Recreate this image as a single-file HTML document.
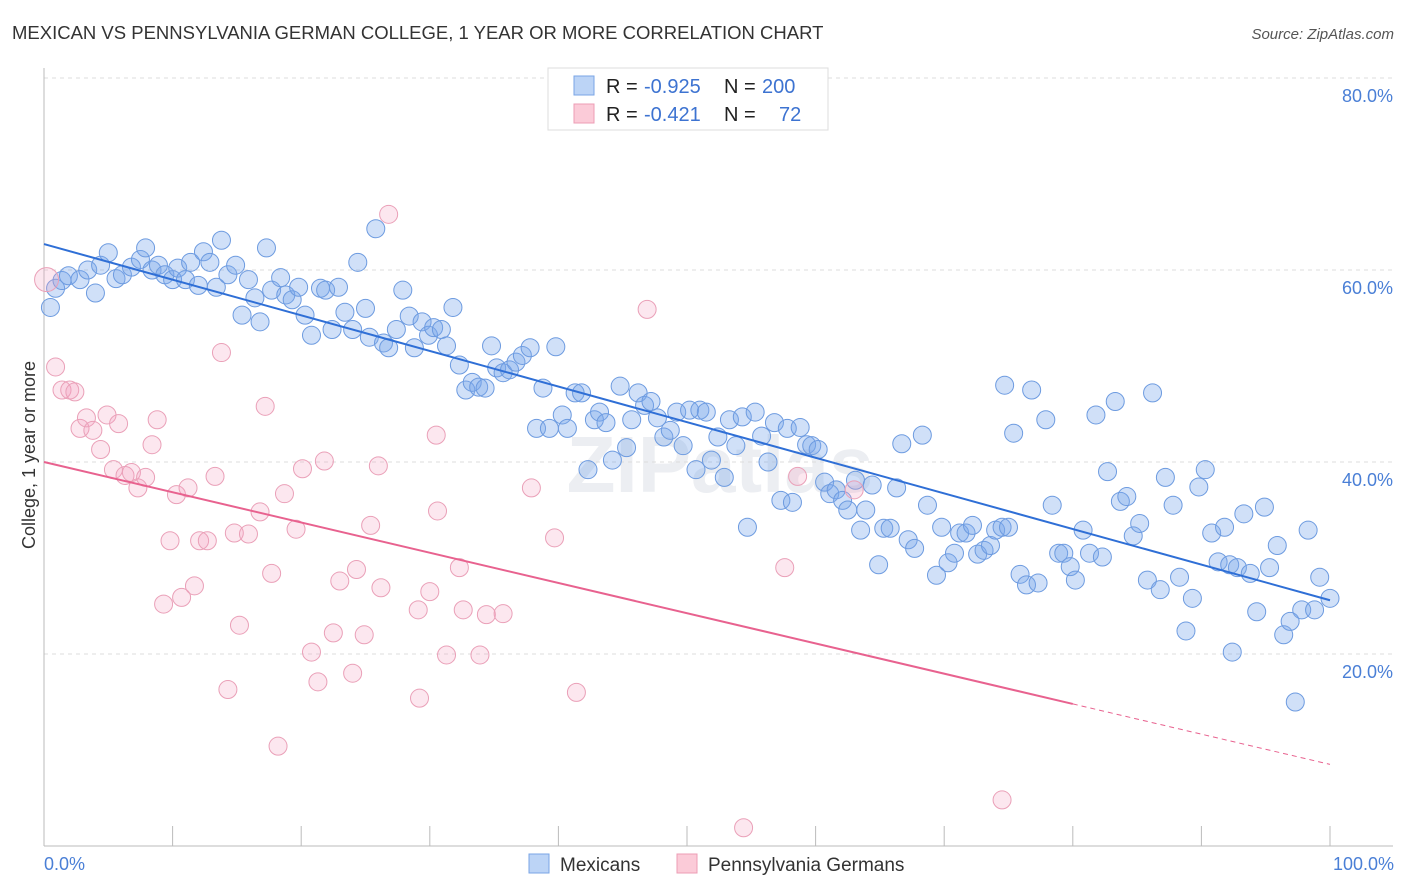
<!DOCTYPE html>
<html><head><meta charset="utf-8"><style>
body{margin:0;background:#fff;font-family:"Liberation Sans",sans-serif;}
svg{display:block}
</style></head><body>
<svg id="chart" width="1406" height="892">
<text x="12" y="39" font-size="18.5" fill="#333">MEXICAN VS PENNSYLVANIA GERMAN COLLEGE, 1 YEAR OR MORE CORRELATION CHART</text>
<text x="1394" y="39" font-size="15" fill="#555" text-anchor="end" font-style="italic">Source: ZipAtlas.com</text>
<text x="720" y="492" font-size="80" fill="#eceef2" text-anchor="middle" font-weight="bold">ZIPatlas</text>
<g id="grid"></g>
<g id="axes"></g>
<g id="pts"></g>
<g id="lines"></g>
<text x="35" y="455" font-size="18" fill="#333" text-anchor="middle" transform="rotate(-90 35 455)">College, 1 year or more</text>
<text x="44" y="870" font-size="18" fill="#4a7fd6">0.0%</text>
<text x="1394" y="870" font-size="18" fill="#4a7fd6" text-anchor="end">100.0%</text>
<g>
<rect x="548" y="68" width="280" height="62" fill="#fff" stroke="#ddd"/>
<rect x="574" y="76" width="20" height="19" fill="#bcd4f6" stroke="#7aa5e6"/>
<rect x="574" y="104" width="20" height="19" fill="#fbcbd8" stroke="#ec9cb5"/>
<text x="606" y="93" font-size="20" fill="#222">R = <tspan x="644" fill="#3d73d1">-0.925</tspan><tspan x="724">N = </tspan><tspan x="762" fill="#3d73d1">200</tspan></text>
<text x="606" y="121" font-size="20" fill="#222">R = <tspan x="644" fill="#3d73d1">-0.421</tspan><tspan x="724">N = </tspan><tspan x="779" fill="#3d73d1">72</tspan></text>
</g>
<g>
<rect x="529" y="854" width="20" height="19" fill="#bcd4f6" stroke="#7aa5e6"/>
<text x="560" y="871" font-size="19" fill="#333">Mexicans</text>
<rect x="677" y="854" width="20" height="19" fill="#fbcbd8" stroke="#ec9cb5"/>
<text x="708" y="871" font-size="19" fill="#333">Pennsylvania Germans</text>
</g>
</svg>
<script>
const yTicks=[20,40,60,80];
const xTicks=[0,10,20,30,40,50,60,70,80,90,100];
const blueX=[0.5,0.9,1.4,1.9,2.8,3.4,4.0,4.4,5.0,5.6,6.1,6.8,7.5,7.9,8.4,8.9,9.4,10.0,10.4,11.0,11.4,12.0,12.4,12.9,13.4,13.8,14.3,14.9,15.4,15.9,16.4,16.8,17.3,17.7,18.4,18.8,19.3,19.8,20.3,20.8,21.5,21.9,22.4,22.9,23.4,24.0,24.4,25.0,25.3,25.8,26.4,26.8,27.4,27.9,28.4,28.8,29.4,29.9,30.3,30.9,31.3,31.8,32.3,32.8,33.3,33.8,34.3,34.8,35.2,35.7,36.2,36.7,37.2,37.8,38.3,38.8,39.3,39.8,40.3,40.7,41.3,41.8,42.3,42.8,43.2,43.7,44.2,44.8,45.3,45.7,46.2,46.7,47.2,47.7,48.2,48.7,49.2,49.7,50.2,50.7,51.0,51.5,51.9,52.4,52.9,53.3,53.8,54.3,54.7,55.3,55.8,56.3,56.8,57.3,57.8,58.2,58.8,59.3,59.7,60.2,60.7,61.1,61.6,62.1,62.5,63.1,63.5,63.9,64.4,64.9,65.3,65.8,66.3,66.7,67.2,67.7,68.3,68.7,69.4,69.8,70.3,70.8,71.2,71.7,72.2,72.6,73.1,73.6,74.0,74.5,75.0,75.4,75.9,76.4,76.8,77.3,77.9,78.4,78.9,79.3,79.8,80.2,80.8,81.3,81.8,82.3,82.7,83.3,83.7,84.2,84.7,85.2,85.8,86.2,86.8,87.2,87.8,88.3,88.8,89.3,89.8,90.3,90.8,91.3,91.8,92.2,92.8,93.3,93.8,94.3,94.9,95.3,95.9,96.4,96.9,97.3,97.8,98.3,98.8,99.2,100.0,92.4,74.7];
const blueY=[56.1,58.1,58.9,59.4,59.0,60.0,57.6,60.5,61.8,59.1,59.5,60.3,61.1,62.3,60.0,60.5,59.5,59.0,60.2,59.0,60.8,58.4,61.9,60.8,58.2,63.1,59.5,60.5,55.3,59.0,57.1,54.6,62.3,57.9,59.2,57.4,56.9,58.2,55.3,53.2,58.1,57.9,53.8,58.2,55.6,53.8,60.8,56.0,53.0,64.3,52.4,51.9,53.8,57.9,55.2,51.9,54.6,53.2,54.0,53.8,52.1,56.1,50.1,47.5,48.3,47.8,47.7,52.1,49.8,49.3,49.6,50.4,51.1,51.9,43.5,47.7,43.5,52.0,44.9,43.5,47.2,47.2,39.2,44.4,45.2,44.1,40.2,47.9,41.5,44.4,47.2,45.9,46.3,44.6,42.6,43.3,45.2,41.7,45.4,39.2,45.4,45.2,40.2,42.6,38.4,44.4,41.7,44.7,33.2,45.2,42.7,40.0,44.1,36.0,43.5,35.8,43.6,41.8,41.7,41.3,37.9,36.7,37.1,36.0,35.0,38.1,32.9,35.0,37.6,29.3,33.1,33.1,37.3,41.9,31.9,31.0,42.8,35.5,28.2,33.2,29.5,30.5,32.6,32.6,33.4,30.4,30.8,31.3,32.9,33.2,33.2,43.0,28.3,27.2,47.5,27.4,44.4,35.5,30.5,30.5,29.1,27.7,32.9,30.5,44.9,30.1,39.0,46.3,35.9,36.4,32.3,33.6,27.7,47.2,26.7,38.4,35.5,28.0,22.4,25.8,37.4,39.2,32.6,29.6,33.2,29.3,29.0,34.6,28.4,24.4,35.3,29.0,31.3,22.0,23.4,15.0,24.6,32.9,24.6,28.0,25.8,20.2,48.0];
const pinkX=[0.2,0.9,1.4,2.0,2.4,2.8,3.3,3.8,4.4,4.9,5.4,5.8,6.3,6.8,7.3,7.9,8.4,8.8,9.3,9.8,10.3,10.7,11.2,11.7,12.1,12.7,13.3,13.8,14.3,14.8,15.2,15.9,16.8,17.2,17.7,18.2,18.7,19.6,20.1,20.8,21.3,21.8,22.5,23.0,24.0,24.3,24.9,25.4,26.0,26.2,26.8,29.1,29.2,30.0,30.5,30.6,31.3,32.3,32.6,33.9,34.4,35.7,37.9,39.7,41.4,46.9,54.4,57.6,58.6,63.0,74.5];
const pinkY=[59.0,49.9,47.5,47.5,47.3,43.5,44.6,43.3,41.3,44.9,39.2,44.0,38.6,38.9,37.3,38.4,41.8,44.4,25.2,31.8,36.6,25.9,37.3,27.1,31.8,31.8,38.5,51.4,16.3,32.6,23.0,32.5,34.8,45.8,28.4,10.4,36.7,33.0,39.3,20.2,17.1,40.1,22.2,27.6,18.0,28.8,22.0,33.4,39.6,26.9,65.8,24.6,15.4,26.5,42.8,34.9,19.9,29.0,24.6,19.9,24.1,24.2,37.3,32.1,16.0,55.9,1.9,29.0,38.5,37.1,4.8];
const blueLine=[62.7,25.6];
const pinkLine=[40.0,14.8,8.5];
const pinkSolidEnd=80;
const NS="http://www.w3.org/2000/svg";
const xs=v=>44+v*12.86;
const ys=v=>846-v*9.6;
function mk(t,a,p){const e=document.createElementNS(NS,t);for(const k in a)e.setAttribute(k,a[k]);p.appendChild(e);return e;}
const gridG=document.getElementById('grid'),axesG=document.getElementById('axes'),ptsG=document.getElementById('pts'),linesG=document.getElementById('lines');
yTicks.forEach(t=>{
 const l=mk('line',{x1:44,x2:1393,y1:ys(t),y2:ys(t),stroke:'#dcdcdc','stroke-dasharray':'4,4'},gridG);
 
 
 const tx=mk('text',{x:1393,y:ys(t)+24,'font-size':18,fill:'#4a7fd6','text-anchor':'end'},gridG);
 tx.textContent=t.toFixed(1)+'%';
 
 
});
const ya=mk('line',{x1:44,x2:44,y1:68,y2:846,stroke:'#bbb'},axesG);


const xa=mk('line',{x1:44,x2:1393,y1:846,y2:846,stroke:'#bbb'},axesG);


xTicks.forEach(t=>{
 const l=mk('line',{x1:xs(t),x2:xs(t),y1:826,y2:846,stroke:'#bbb'},axesG);
 
 
});
blueX.forEach((x,i)=>{
 const c=mk('circle',{cx:xs(x),cy:ys(blueY[i]),r:9,fill:'rgba(120,165,235,0.35)',stroke:'#6d9be0','stroke-width':1},ptsG);
 
 
});
pinkX.forEach((x,i)=>{
 const c=mk('circle',{cx:xs(x),cy:ys(pinkY[i]),r:i===0?12:9,fill:'rgba(245,160,190,0.25)',stroke:'#eaa0b8','stroke-width':1},ptsG);
 
 
});
const bl=mk('line',{x1:xs(0),y1:ys(blueLine[0]),x2:xs(100),y2:ys(blueLine[1]),stroke:'#2f6fd6','stroke-width':2},linesG);


const pl=mk('line',{x1:xs(0),y1:ys(pinkLine[0]),x2:xs(pinkSolidEnd),y2:ys(pinkLine[1]),stroke:'#e8628f','stroke-width':2},linesG);


const pd=mk('line',{x1:xs(pinkSolidEnd),y1:ys(pinkLine[1]),x2:xs(100),y2:ys(pinkLine[2]),stroke:'#e8628f','stroke-width':1,'stroke-dasharray':'5,4'},linesG);


</script>
</body></html>
